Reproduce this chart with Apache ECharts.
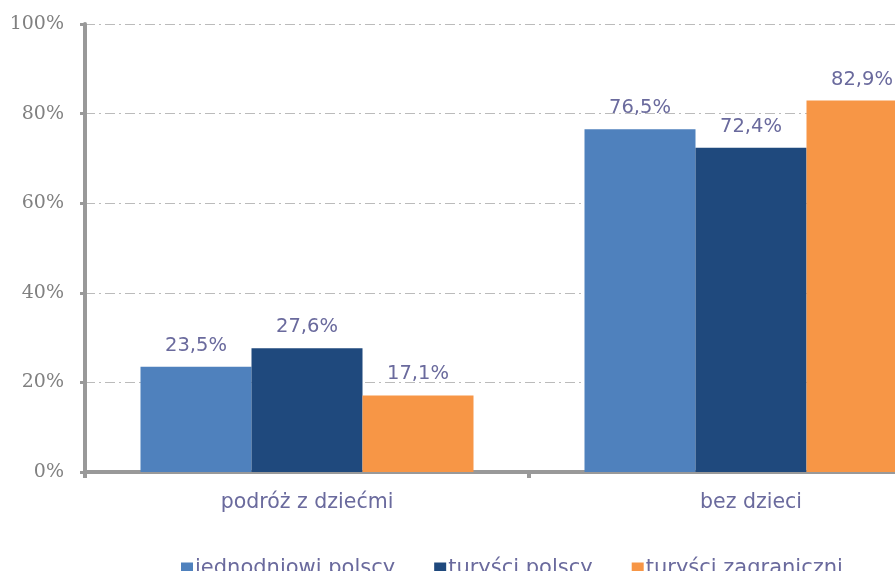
<!DOCTYPE html>
<html><head><meta charset="utf-8">
<script src="https://cdn.jsdelivr.net/npm/echarts@6/dist/echarts.min.js"></script>
<style>html,body{margin:0;padding:0;background:#fff}#c{width:895px;height:571px}</style>
</head><body><div id="c"></div>
<script>
var categories = ['podróż z dziećmi', 'bez dzieci'];
var seriesNames = ['jednodniowi polscy', 'turyści polscy', 'turyści zagraniczni'];
var jednodniowi = [23.5, 76.5];
var turysciPolscy = [27.6, 72.4];
var turysciZagraniczni = [17.1, 82.9];
var colors = ['#4f81bd', '#1f497d', '#f79646'];
var yTicks = [0, 20, 40, 60, 80, 100];

var textColor = '#6a6a9d';
function mk(name, data, color) {
  return {
    name: name, type: 'bar', data: data, barGap: '0%', barCategoryGap: '25%',
    itemStyle: { color: color },
    label: { show: true, position: 'top', distance: 11, color: textColor,
      fontFamily: 'DejaVu Sans', fontSize: 19.5,
      formatter: function (p) { return p.value.toFixed(1).replace('.', ',') + '%'; } }
  };
}
var chart = echarts.init(document.getElementById('c'));
chart.setOption({
  animation: false,
  grid: { left: 85, top: 24, height: 448, width: 888, containLabel: false, outerBoundsMode: 'none' },
  legend: {
    top: 553, left: 176, itemWidth: 12, itemHeight: 12, itemGap: 39,
    icon: 'rect',
    textStyle: { color: textColor, fontFamily: 'DejaVu Sans', fontSize: 21, padding: [0, 0, 0, -3] },
    data: seriesNames
  },
  xAxis: {
    type: 'category', data: categories,
    axisLine: { lineStyle: { color: '#999', width: 4 } },
    axisTick: { show: true, length: 6, lineStyle: { color: '#999', width: 4 } },
    axisLabel: { color: textColor, fontFamily: 'DejaVu Sans', fontSize: 20.5, margin: 20 }
  },
  yAxis: {
    type: 'value', min: yTicks[0], max: yTicks[yTicks.length - 1], interval: 20,
    axisLine: { show: true, lineStyle: { color: '#999', width: 4 } },
    axisTick: { show: true, length: 5, lineStyle: { color: '#999', width: 3 } },
    axisLabel: { color: '#808080', fontFamily: 'DejaVu Serif', fontSize: 19, margin: 21,
      formatter: function (v) { return v + '%'; } },
    splitLine: { show: true, lineStyle: { color: '#bbb', width: 1, type: [10, 4, 2, 4] } }
  },
  series: [
    mk(seriesNames[0], jednodniowi, colors[0]),
    mk(seriesNames[1], turysciPolscy, colors[1]),
    mk(seriesNames[2], turysciZagraniczni, colors[2])
  ]
});
</script></body></html>
